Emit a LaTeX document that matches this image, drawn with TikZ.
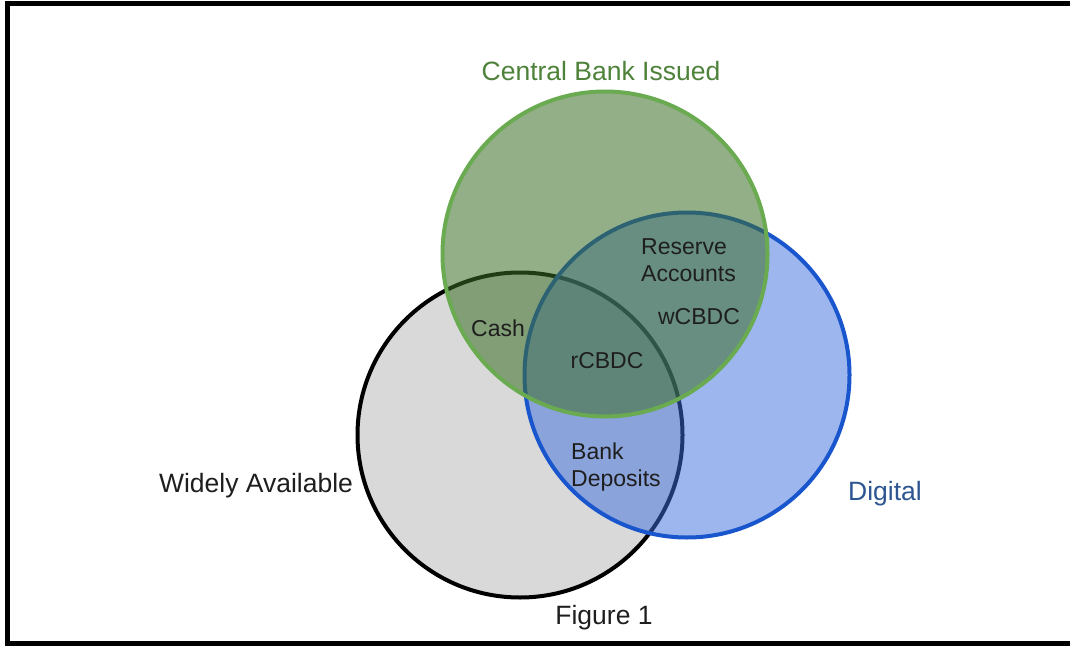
\documentclass[tikz,border=0pt]{standalone}
\usepackage{fontspec}
\setmainfont{Liberation Sans}
\definecolor{greyfill}{RGB}{217,217,217}
\definecolor{bluefill}{RGB}{60,110,220}
\definecolor{bluedraw}{RGB}{25,85,205}
\definecolor{greenfill}{RGB}{60,110,40}
\definecolor{greendraw}{RGB}{106,170,80}
\definecolor{greentext}{RGB}{78,130,58}
\definecolor{bluetext}{RGB}{45,85,145}
\definecolor{darktext}{RGB}{30,30,30}
\begin{document}
\begin{tikzpicture}[x=1pt,y=-1pt,
  venn/.style={circle, inner sep=0pt, minimum size=325pt, line width=4pt},
  outerlbl/.style={font=\fontsize{26.5}{31}\selectfont, inner sep=0pt},
  innerlbl/.style={font=\fontsize{23}{27}\selectfont, inner sep=0pt, text=darktext}]
\useasboundingbox (0,0) rectangle (1070,647);
\fill[white] (0,0) rectangle (1070,647);
\draw[line width=5pt, line join=miter] (1070,3.5) -- (7.5,3.5) -- (7.5,643) -- (1070,643);
% circles
\node[venn, draw=black, fill=greyfill] (wide) at (520,435) {};
\node[venn, draw=bluedraw, fill=bluefill, fill opacity=0.5] (digital) at (687,375) {};
\node[venn, draw=greendraw, fill=greenfill, fill opacity=0.55] (central) at (605,254) {};
% outer labels
\node[outerlbl, text=greentext] (lcentral) at (601,71) {Central Bank Issued};
\node[outerlbl, text=darktext] (lwide) at (256,486) {Widely Available};
\node[outerlbl, text=bluetext] (ldigital) at (885,494) {Digital};
\node[outerlbl, text=darktext] (lfig) at (604,618) {Figure 1};
% inner labels
\node[innerlbl, anchor=west, align=left] (reserve) at (641,260) {Reserve\\Accounts};
\node[innerlbl] (wcbdc) at (699,317) {wCBDC};
\node[innerlbl] (cash) at (498,328) {Cash};
\node[innerlbl] (rcbdc) at (607,361) {rCBDC};
\node[innerlbl, anchor=west, align=left] (deposits) at (571,467) {Bank\\Deposits};
\end{tikzpicture}
\end{document}
